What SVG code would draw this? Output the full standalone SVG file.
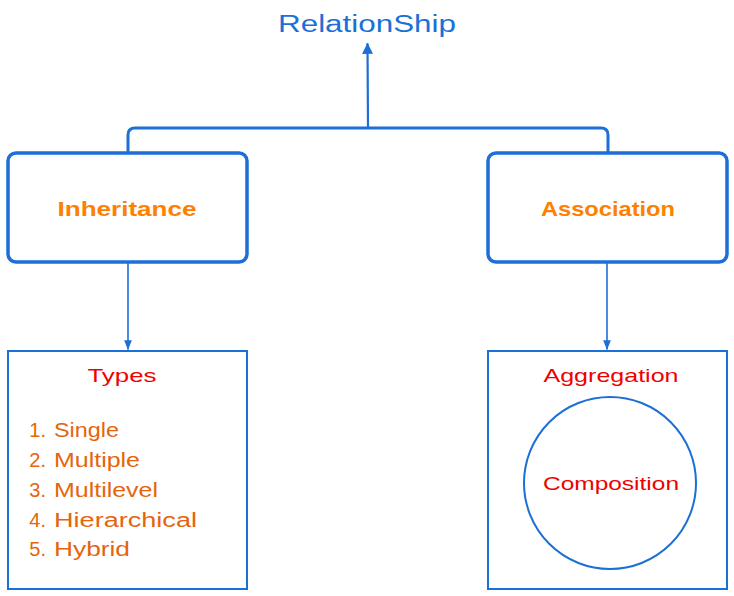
<svg xmlns="http://www.w3.org/2000/svg" width="734" height="596" viewBox="0 0 734 596">
<defs>
<style>
.box{fill:#fff;stroke:#1c6fd6;stroke-width:3.5;stroke-linejoin:round}
.thin{fill:none;stroke:#1c6fd6;stroke-width:2}
.conn{fill:none;stroke:#1c6fd6;stroke-linecap:round}
.title{font-family:"Liberation Sans",Arial,sans-serif;font-size:23px;fill:#1c6fd6}
.head{font-family:"Liberation Sans",Arial,sans-serif;font-size:21px;font-weight:bold;fill:#ff7f00}
.red{font-family:"Liberation Sans",Arial,sans-serif;font-size:19px;fill:#f00000}
.item{font-family:"Liberation Sans",Arial,sans-serif;font-size:20px;fill:#e5650c}
</style>
<marker id="ah" viewBox="0 0 10 10" refX="9" refY="5" markerWidth="5" markerHeight="5" orient="auto-start-reverse" markerUnits="strokeWidth">
<path d="M0,0 L10,5 L0,10 z" fill="#1c6fd6"/>
</marker>
<marker id="ah2" viewBox="0 0 10 10" refX="9" refY="5" markerWidth="6" markerHeight="6" orient="auto" markerUnits="strokeWidth">
<path d="M0,1 L10,5 L0,9 z" fill="#1c6fd6"/>
</marker>
</defs>

<g id="connectors">
<path class="conn" stroke-width="3" d="M128,151 L128,135 Q128,128 135,128 L601,128 Q608,128 608,135 L608,152"/>
<path class="conn" stroke-width="2.2" d="M368,128 L367.5,44" marker-end="url(#ah)"/>
<path class="conn" stroke-width="1.6" d="M128,263 L128,349" marker-end="url(#ah2)"/>
<path class="conn" stroke-width="1.6" d="M607,263 L607,349" marker-end="url(#ah2)"/>
</g>

<g id="relationship">
<text class="title" x="367" y="32" text-anchor="middle" textLength="178" lengthAdjust="spacingAndGlyphs">RelationShip</text>
</g>

<g id="inheritance">
<rect class="box" x="8" y="153" width="239" height="109" rx="8"/>
<text class="head" x="127" y="216" text-anchor="middle" textLength="139" lengthAdjust="spacingAndGlyphs">Inheritance</text>
</g>

<g id="association">
<rect class="box" x="488" y="153" width="239" height="109" rx="8"/>
<text class="head" x="608" y="216" text-anchor="middle" textLength="134" lengthAdjust="spacingAndGlyphs">Association</text>
</g>

<g id="types">
<rect class="thin" x="8" y="351" width="239" height="238"/>
<text class="red" x="122" y="382" text-anchor="middle" textLength="69" lengthAdjust="spacingAndGlyphs">Types</text>
<g class="item">
<text x="46" y="437" text-anchor="end">1.</text><text x="54" y="437" textLength="65" lengthAdjust="spacingAndGlyphs">Single</text>
<text x="46" y="467" text-anchor="end">2.</text><text x="54" y="467" textLength="86" lengthAdjust="spacingAndGlyphs">Multiple</text>
<text x="46" y="497" text-anchor="end">3.</text><text x="54" y="497" textLength="104" lengthAdjust="spacingAndGlyphs">Multilevel</text>
<text x="46" y="527" text-anchor="end">4.</text><text x="54" y="527" textLength="143" lengthAdjust="spacingAndGlyphs">Hierarchical</text>
<text x="46" y="556" text-anchor="end">5.</text><text x="54" y="556" textLength="76" lengthAdjust="spacingAndGlyphs">Hybrid</text>
</g>
</g>

<g id="aggregation">
<rect class="thin" x="488" y="351" width="239" height="238"/>
<text class="red" x="611" y="382" text-anchor="middle" textLength="135" lengthAdjust="spacingAndGlyphs">Aggregation</text>
</g>

<g id="composition">
<circle class="thin" cx="610" cy="483" r="86"/>
<text class="red" x="611" y="490" text-anchor="middle" textLength="136" lengthAdjust="spacingAndGlyphs">Composition</text>
</g>
</svg>
